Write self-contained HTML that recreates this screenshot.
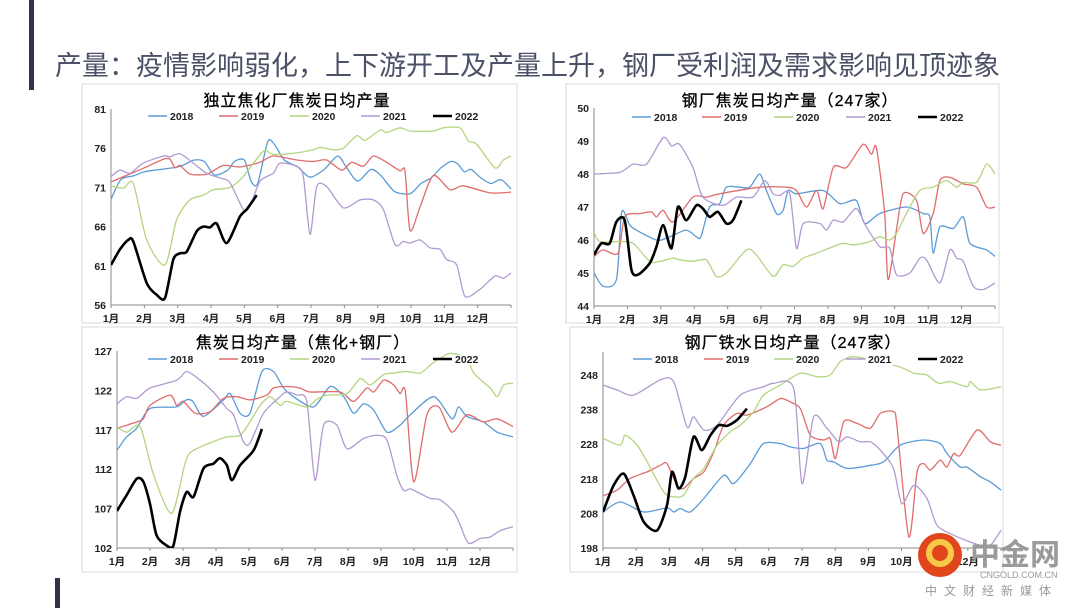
<!DOCTYPE html>
<html><head><meta charset="utf-8">
<style>
body{margin:0;background:#fff;}
#wrap{position:relative;width:1080px;height:608px;overflow:hidden;background:#fff;font-family:"Liberation Sans","Noto Sans CJK SC",sans-serif;}
.t{font-family:"Liberation Sans","Noto Sans CJK SC",sans-serif;}
</style></head><body>
<div id="wrap">
<svg id="svg" width="1080" height="608" xmlns="http://www.w3.org/2000/svg">
<rect x="29" y="0" width="5" height="90" fill="#2f3447"/>
<rect x="55" y="578" width="5" height="30" fill="#2f3447"/>
<text x="55" y="75" font-size="27" fill="#4b5166" class="t">产量：疫情影响弱化，上下游开工及产量上升，钢厂受利润及需求影响见顶迹象</text>
<g id="logo">
<circle cx="940" cy="555" r="22" fill="#e0451c"/>
<circle cx="940" cy="553" r="11" fill="none" stroke="#f7c948" stroke-width="6"/>
<text x="970" y="565" font-size="30" font-weight="bold" fill="#9a9a9a" class="t">中金网</text>
<text x="980" y="578" font-size="9" fill="#999" class="t">CNGOLD.COM.CN</text>
<text x="925" y="595" font-size="12" fill="#999" letter-spacing="7" class="t">中文财经新媒体</text>
</g>
</svg>
</div>
<script>
// ---------- Chart data (month index 0=Jan start, 12=year end) ----------
// Chart 1: 独立焦化厂焦炭日均产量
const c1_2018_m=[0,0.3,0.7,1,1.5,2,2.2,2.5,2.8,3.1,3.5,3.7,4,4.2,4.4,4.7,4.9,5.2,5.6,5.97,6.4,6.8,7.07,7.4,7.8,8.1,8.5,8.97,9.3,9.6,9.9,10.2,10.4,10.6,10.8,11.1,11.4,11.7,12];
const c1_2018_v=[69.5,72,72.5,73,73.3,73.6,73.9,74.5,74.3,72.6,73.2,74.3,74.5,71.8,71.5,76.8,76.5,74.5,73.6,72.3,73.3,75,73.5,71.8,73.3,72.5,70.5,70.2,71.5,72.2,73.5,74.3,74,73,73.3,72.2,71.5,72,70.8];
const c1_2019_m=[0,1,1.57,1.77,1.92,2.07,2.37,2.87,3.37,3.87,4.47,4.87,5.57,6.07,6.47,6.92,7.22,7.57,7.87,8.27,8.67,8.82,8.97,9.27,9.67,10.17,10.57,11.37,12];
const c1_2019_v=[71.7,73.5,74.6,74.6,73.5,73.8,72.7,72.7,73.8,73.6,74.2,75,74.5,74.3,74.5,73.2,74.2,73.7,75,74.2,73.1,73.1,65.5,68.5,72.5,70.7,71.2,70.3,70.4];
const c1_2020_m=[0,0.37,0.67,1.07,1.62,1.97,2.37,2.77,3.07,3.57,3.97,4.57,4.87,5.57,6.07,6.27,6.67,6.97,7.37,7.62,8.07,8.27,8.67,8.97,9.67,9.97,10.47,10.72,10.97,11.52,11.77,12];
const c1_2020_v=[71.2,70.9,71.5,64.3,61.1,66.9,69.4,70,70.7,71,72.4,75.6,75.2,75.4,75.8,76.1,75.8,76,77.6,77,78.3,78,78.6,78.2,78.2,78.6,78.6,76.9,76.5,73.5,74.5,75];
const c1_2021_m=[0,0.27,0.57,0.97,1.57,1.77,2.07,2.47,2.87,3.27,3.57,3.97,4.17,4.47,4.87,5.07,5.57,5.77,5.97,6.17,6.47,6.97,7.47,7.87,8.17,8.52,8.77,8.97,9.27,9.57,9.87,10.07,10.37,10.62,11.07,11.52,11.77,12];
const c1_2021_v=[72.4,73.2,72.8,74.1,75,74.9,75.3,74.1,72.8,72.2,71.6,68.2,68.6,71.8,72.8,74.1,73.7,72.4,65,71.1,71.1,68.4,69.4,69.4,68.2,63.7,64.1,63.9,64.3,63.3,63.1,61.8,61.1,57.1,58,59.7,59.4,60.1];
const c1_2022_m=[0,0.27,0.52,0.67,1.07,1.37,1.62,1.87,2.07,2.27,2.57,2.77,2.97,3.17,3.47,3.87,4.07,4.37];
const c1_2022_v=[61.1,63.1,64.3,64.1,58.8,57.3,56.9,61.8,62.6,62.8,65.4,66,65.9,66.4,63.9,67.3,68.2,70];
const c1_ticks=[56,61,66,71,76,81];

// Chart 2: 钢厂焦炭日均产量（247家）
const c2_2018_m=[0,0.27,0.67,0.82,0.97,1.12,1.87,2.27,2.76,3.06,3.2,3.46,3.76,3.96,4.36,4.66,4.96,5.16,5.46,5.66,5.81,6.06,6.86,7.36,7.85,8.1,8.55,9.35,9.85,10.05,10.15,10.35,10.75,11.05,11.25,11.75,12];
const c2_2018_v=[45,44.6,44.8,46.8,46.7,46.4,46,46.1,46.3,46.1,46.1,47,47.1,47.6,47.6,47.6,48,47.5,46.8,46.9,47.5,47.4,47.5,47.1,47.2,46.5,46.8,47,46.8,46.7,45.6,46.4,46.35,46.7,45.9,45.7,45.5];
const c2_2019_m=[0,0.27,0.72,0.92,1.37,1.72,1.87,2.07,2.37,2.96,3.36,3.76,4.96,5.76,6.06,6.36,6.66,6.86,7.16,7.56,8.05,8.3,8.45,8.7,8.8,9.05,9.25,9.65,9.85,10.15,10.35,10.65,11.05,11.45,11.75,12];
const c2_2019_v=[45.5,45.7,45.6,46.7,46.8,46.85,46.7,46.9,46.55,47.3,47.3,47.4,47.6,47.6,47.5,47,47.5,46.95,48.2,48.2,48.9,48.6,48.8,46.8,44.8,46.3,47.4,47.2,46.2,46.8,47.8,47.9,47.7,47.6,47,47];
const c2_2020_m=[0,0.17,0.77,1.17,1.67,1.97,2.37,2.56,2.96,3.36,3.66,3.96,4.56,4.86,5.36,5.66,5.96,6.26,6.66,7.16,7.46,7.76,8.25,8.55,8.85,9.05,9.35,9.75,10.15,10.55,10.85,11.05,11.45,11.75,12];
const c2_2020_v=[46.25,45.95,45.95,45.9,45.35,45.35,45.45,45.4,45.35,45.4,44.9,45,45.7,45.55,44.9,45.25,45.2,45.45,45.6,45.8,45.9,45.85,45.95,46.1,46,46.2,46.8,47.5,47.6,47.8,47.6,47.75,47.75,48.3,48];
const c2_2021_m=[0,0.77,1.17,1.57,2.07,2.32,2.56,2.96,3.26,3.86,4.26,4.76,5.11,5.36,5.56,5.86,6.06,6.26,6.76,6.96,7.16,7.46,7.85,8.15,8.55,8.85,9.05,9.45,9.75,9.95,10.35,10.65,10.85,11.05,11.35,11.65,12];
const c2_2021_v=[48,48.05,48.3,48.3,49.1,48.85,48.9,48.2,47.3,47.05,47.3,47.3,47.8,47.4,47.35,47.4,45.75,46.5,46.5,46.3,46.6,46.55,46.95,46.4,45.8,45.75,44.95,45,45.45,45.4,44.7,45.7,45.45,45.35,44.6,44.5,44.7];
const c2_2022_m=[0,0.22,0.47,0.67,0.92,1.12,1.32,1.67,1.87,2.07,2.32,2.51,2.76,3.06,3.26,3.46,3.71,3.96,4.16,4.41];
const c2_2022_v=[45.55,45.9,45.9,46.55,46.6,45.1,44.95,45.3,45.8,46.45,45.75,47,46.6,47.05,46.95,46.7,46.85,46.5,46.6,47.2];
const c2_ticks=[44,45,46,47,48,49,50];

// Chart 3: 焦炭日均产量（焦化+钢厂）
const c3_2018_m=[0,0.29,0.6,1,1.8,2.1,2.3,2.62,3.23,3.43,3.73,4.03,4.39,4.74,5.05,5.35,5.96,6.46,6.87,7.17,7.47,7.78,8.18,8.58,8.89,9.6,10.15,10.35,10.6,11.1,11.52,12];
const c3_2018_v=[114.4,116.1,117.2,119.7,119.9,120.8,120.6,118.7,120.8,121.6,119.1,119.1,124.4,124.4,122.3,121.2,119.9,122.5,121.2,119.1,120.3,119.5,116.7,117.6,118.9,121.2,118.4,119.9,118.7,118,116.7,116.1];
const c3_2019_m=[0,0.6,0.8,1,1.61,1.81,2.01,2.37,2.82,3.23,3.63,4.03,4.54,4.74,5.15,5.55,5.85,6.76,7.17,7.57,7.78,8.08,8.38,8.58,8.74,8.99,9.39,9.75,10.15,10.6,11.1,11.52,12];
const c3_2019_v=[117.2,118,118.4,120.1,121.4,120.1,120.6,119.1,119.3,121,121.2,120.8,121.4,122.3,122.5,122.3,121.8,121.8,120.6,122.3,121.8,123.3,122.7,121.6,121.8,110.4,118.9,119.9,116.7,118.9,118,118.4,117.4];
const c3_2020_m=[0,0.29,0.7,1.1,1.66,2.11,2.52,2.92,3.33,3.73,4.03,4.34,4.64,4.94,5.14,5.75,6.06,6.36,6.97,7.37,7.67,8.08,8.38,8.79,9.19,9.49,9.8,10.1,10.6,10.81,11.31,11.52,11.72,12];
const c3_2020_v=[117.4,116.7,117.4,111.4,106.4,113.4,114.8,115.5,116.1,116.3,118,120.1,121.2,120.1,120.6,119.9,120.9,121.4,121.6,123.5,122.7,124,124.2,124.4,124.2,125.2,126.1,126.7,126.1,124.2,122.3,121.2,122.7,122.9];
const c3_2021_m=[0,0.29,0.6,1,1.81,2.11,2.52,2.92,3.33,3.53,3.83,4.03,4.44,4.94,5.14,5.45,5.75,6,6.26,6.66,6.97,7.47,7.88,8.18,8.48,8.69,8.89,9.19,9.49,9.8,10.2,10.4,10.65,11,11.31,11.61,12];
const c3_2021_v=[120.3,121.2,121,122.3,123.3,124.4,123.3,121.8,119.7,118.9,115.5,115.3,119.1,121.2,121.8,121.4,120.6,110.6,117.6,117.6,114.6,115.9,116.3,115.7,111.2,109.3,109.5,108.9,108.3,108.1,106.6,104.9,102.6,103.2,103.4,104.2,104.7];
const c3_2022_m=[0,0.29,0.6,0.8,1,1.2,1.51,1.71,1.91,2.11,2.32,2.62,2.92,3.12,3.33,3.48,3.73,4.14,4.39];
const c3_2022_v=[106.7,108.7,110.8,110.4,107.6,103.6,102.3,102.3,106.6,109.1,108.5,112.1,112.7,113.4,112.5,110.6,112.5,114.4,117.1];
const c3_ticks=[102,107,112,117,122,127];

// Chart 4: 钢厂铁水日均产量（247家）
const c4_2018_m=[0,0.52,1.23,1.93,2.13,2.33,2.63,3.04,3.64,3.94,4.44,4.84,5.35,5.65,6.05,6.55,6.75,6.95,7.36,8.06,8.46,8.96,9.67,10.17,10.37,10.77,10.97,11.38,11.68,12];
const c4_2018_v=[208.4,211.3,208.4,209.6,208.4,209.4,208.4,212.3,219,216.6,222.4,228.2,228.2,227.2,226.8,228.2,223.4,222.9,221,221.9,222.9,227.7,229.2,228.2,225.3,221.4,221.4,218.6,217.1,214.7];
const c4_2019_m=[0,0.42,0.82,1.33,1.73,1.93,2.23,2.43,2.73,3.04,3.34,3.64,4.04,4.34,4.94,5.35,5.65,5.95,6.25,6.65,6.85,7.01,7.26,7.66,8.06,8.36,8.76,8.86,9.22,9.47,9.67,9.87,10.17,10.37,10.57,10.77,11.28,11.68,12];
const c4_2019_v=[213.1,214.7,218.1,220,221.9,222.4,216.1,215.2,218.1,220,225.8,233.5,236.9,236.4,238.8,241.2,240.2,238.3,230.6,229.2,229.7,223.9,234.5,234,232.6,236.9,237.4,233.5,201.2,220,222.4,220.5,223.4,221.4,225.3,224.8,232.1,228.7,227.7];
const c4_2020_m=[0,0.52,0.67,1.03,1.33,1.83,2.13,2.43,2.73,3.04,3.44,3.84,4.14,4.54,4.84,5.35,5.95,6.45,6.85,7.16,7.56,8.26,8.76,9.16,9.36,9.76,10.12,10.47,10.97,11.08,11.38,12];
const c4_2020_v=[229.7,227.7,230.6,227.7,222.9,214.2,212.8,213.3,218.1,221,227.7,231.6,233.5,237.4,242.2,245.1,248.5,247.5,248,251.9,253.3,251.9,250.9,249.5,248.5,248,245.6,246.1,244.6,246.1,243.7,244.6];
const c4_2021_m=[0,0.42,0.92,1.73,2.13,2.53,2.73,3.04,3.44,4.14,4.84,5.15,5.75,6,6.35,6.75,7.11,7.36,7.76,8.06,8.36,8.76,9.01,9.37,9.77,10.07,10.57,11.08,11.38,11.68,12];
const c4_2021_v=[245.1,243.7,242.2,246.6,246.1,233,235.9,232.1,233.5,242.2,244.6,245.6,244.1,216.6,235.9,232.6,228.7,230.1,228.7,228.7,226.3,221,210.8,216.1,212.3,204.6,201.7,199.7,198.8,198.8,203.1];
const c4_2022_m=[0,0.32,0.62,0.92,1.23,1.63,1.93,2.08,2.28,2.48,2.73,2.98,3.24,3.49,3.74,4.04,4.34];
const c4_2022_v=[208.4,216.1,219.5,213.3,205.5,203.1,210.4,220,215.2,218.6,230.1,226.3,230.6,233.5,233.3,235,238.3];
const c4_ticks=[198,208,218,228,238,248];

const monthLabels=["1月","2月","3月","4月","5月","6月","7月","8月","9月","10月","11月","12月"];
const seriesNames=["2018","2019","2020","2021","2022"];
const seriesColors=["#5b9bd5","#e06c6c","#b3d57f","#b09ad0","#000000"];

const NS="http://www.w3.org/2000/svg";
const svg=document.getElementById('svg');
function el(tag,attrs,parent){const e=document.createElementNS(NS,tag);for(const k in attrs)e.setAttribute(k,attrs[k]);(parent||svg).appendChild(e);return e;}
function smoothPath(pts){
  let d="M"+pts[0][0].toFixed(1)+","+pts[0][1].toFixed(1);
  for(let i=0;i<pts.length-1;i++){
    const p0=pts[i-1]||pts[i],p1=pts[i],p2=pts[i+1],p3=pts[i+2]||p2;
    const t=0.13;
    const c1=[p1[0]+(p2[0]-p0[0])*t,p1[1]+(p2[1]-p0[1])*t];
    const c2=[p2[0]-(p3[0]-p1[0])*t,p2[1]-(p3[1]-p1[1])*t];
    d+=" C"+c1[0].toFixed(1)+","+c1[1].toFixed(1)+" "+c2[0].toFixed(1)+","+c2[1].toFixed(1)+" "+p2[0].toFixed(1)+","+p2[1].toFixed(1);
  }
  return d;
}
function chart(cfg){
  const g=el('g',{});
  
  
  const fr=el('rect',{x:cfg.fx,y:cfg.fy,width:cfg.fw,height:cfg.fh,fill:'#fff',stroke:'#d9d9d9','stroke-width':1},g);
  
  
  const ticks=cfg.ticks,ymin=ticks[0],ymax=ticks[ticks.length-1];
  const X=m=>cfg.x0+(cfg.x1-cfg.x0)*m/12;
  const Y=v=>cfg.y1-(cfg.y1-cfg.y0)*(v-ymin)/(ymax-ymin);
  const top=cfg.top||cfg.y0;
  const ti=el('text',{x:cfg.tx,y:cfg.ty,'font-size':16,'text-anchor':'middle',fill:'#000',class:'t','letter-spacing':'1','stroke':'#000','stroke-width':'0.3'},g);
  ti.textContent=cfg.title;
  
  
  ticks.forEach(t=>{
    const lb=el('text',{x:cfg.x0-5,y:Y(t)+4,'font-size':10.5,'font-weight':'bold','text-anchor':'end',fill:'#222',class:'t'},g);
    lb.textContent=t;
    
    
  });
  const cp=el('clipPath',{id:'cp'+cfg.id},g);
  el('rect',{x:cfg.x0,y:top,width:cfg.x1-cfg.x0+2,height:cfg.y1-top},cp);
  const ax=el('path',{d:`M${cfg.x0},${top}V${cfg.y1}H${cfg.x1}`,fill:'none',stroke:'#888','stroke-width':1},g);
  
  
  for(let i=0;i<=12;i++){el('line',{x1:X(i),x2:X(i),y1:cfg.y1,y2:cfg.y1+3,stroke:'#888'},g);}
  monthLabels.forEach((l,i)=>{
    const lb=el('text',{x:X(i),y:cfg.y1+17,'font-size':10.5,'font-weight':'bold','text-anchor':'middle',fill:'#222',class:'t'},g);
    lb.textContent=l;
    
    
  });
  cfg.series.forEach((s,i)=>{
    const pts=s[0].map((m,j)=>[X(m),Y(s[1][j])]);
    const p=el('path',{d:smoothPath(pts),fill:'none',stroke:seriesColors[i],'stroke-width':i==4?2.6:1.3,'stroke-linejoin':'round','clip-path':`url(#cp${cfg.id})`},g);
    
    
  });
  cfg.legend.forEach((lx,i)=>{
    const lg=el('g',{},g);
    
    
    el('rect',{x:lx+6,y:cfg.ly-8,width:28,height:10,fill:'#fff'},lg);
    el('line',{x1:lx-14,x2:lx+5,y1:cfg.ly-4,y2:cfg.ly-4,stroke:seriesColors[i],'stroke-width':i==4?2.6:1.5},lg);
    const lt=el('text',{x:lx+8,y:cfg.ly,'font-size':10.5,'font-weight':'bold',fill:'#222',class:'t'},lg);
    lt.textContent=seriesNames[i];
  });
}
chart({id:1,name:'chart-independent-coke',fx:82,fy:84,fw:435,fh:239,x0:111,x1:511,y0:109,y1:305,tx:297,ty:106,title:'独立焦化厂焦炭日均产量',ticks:c1_ticks,ly:120,legend:[162,233,304,375,447],
  series:[[c1_2018_m,c1_2018_v],[c1_2019_m,c1_2019_v],[c1_2020_m,c1_2020_v],[c1_2021_m,c1_2021_v],[c1_2022_m,c1_2022_v]]});
chart({id:2,name:'chart-steel-coke',fx:566,fy:84,fw:433,fh:239,x0:594,x1:995,y0:108,y1:306,tx:790,ty:106,title:'钢厂焦炭日均产量（247家）',ticks:c2_ticks,ly:121,legend:[646,716,788,860,932],
  series:[[c2_2018_m,c2_2018_v],[c2_2019_m,c2_2019_v],[c2_2020_m,c2_2020_v],[c2_2021_m,c2_2021_v],[c2_2022_m,c2_2022_v]]});
chart({id:3,name:'chart-total-coke',fx:82,fy:327,fw:435,fh:245,x0:117,x1:513,y0:351,y1:548,tx:303,ty:348,title:'焦炭日均产量（焦化+钢厂）',ticks:c3_ticks,ly:363,legend:[162,233,304,375,447],
  series:[[c3_2018_m,c3_2018_v],[c3_2019_m,c3_2019_v],[c3_2020_m,c3_2020_v],[c3_2021_m,c3_2021_v],[c3_2022_m,c3_2022_v]]});
chart({id:4,name:'chart-hot-metal',fx:570,fy:327,fw:433,fh:245,x0:603,x1:1001,y0:375,y1:548,top:352,tx:793,ty:348,title:'钢厂铁水日均产量（247家）',ticks:c4_ticks,ly:363,legend:[647,718,788,860,932],
  series:[[c4_2018_m,c4_2018_v],[c4_2019_m,c4_2019_v],[c4_2020_m,c4_2020_v],[c4_2021_m,c4_2021_v],[c4_2022_m,c4_2022_v]]});
svg.appendChild(document.getElementById('logo'));
</script>
</body></html>
